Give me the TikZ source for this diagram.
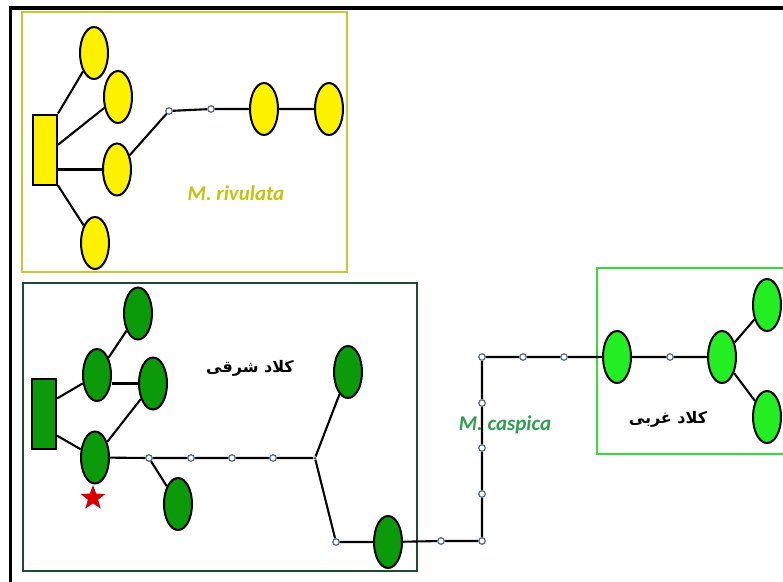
\documentclass[tikz,border=0pt]{standalone}
\usepackage{fontspec}
\setmainfont{Carlito}
\newfontfamily\arabicfont[Script=Arabic]{DejaVu Sans}
\TeXXeTstate=1
\usetikzlibrary{shapes.geometric}

\definecolor{riv}{HTML}{C8C832}
\definecolor{rivtext}{HTML}{C4C410}
\definecolor{eastframe}{HTML}{1F4A33}
\definecolor{eastfill}{HTML}{0A9A0A}
\definecolor{westframe}{HTML}{33DD33}
\definecolor{westfill}{HTML}{22EE22}
\definecolor{casp}{HTML}{2E9E50}
\definecolor{hub}{HTML}{4A6A90}

\tikzset{
  link/.style={line width=2.1pt, black},
  hap/.style={ellipse, draw=black, line width=2pt, minimum width=28pt,
              minimum height=52pt, inner sep=0pt},
  ancestral/.style={rectangle, draw=black, line width=2pt, minimum width=24pt,
              minimum height=70pt, inner sep=0pt},
  median/.style={circle, draw=hub, fill=white, line width=1.2pt,
              minimum size=6.5pt, inner sep=0pt},
  joint/.style={circle, fill=hub, minimum size=3pt, inner sep=0pt},
  clade/.style={line width=2.4pt},
  species/.style={font=\bfseries\itshape\fontsize{21}{24}\selectfont},
  cladename/.style={font=\arabicfont\bfseries\fontsize{16}{19}\selectfont, text=black}
}

\begin{document}
\begin{tikzpicture}[x=1pt, y=-1pt]
\useasboundingbox (0,0) rectangle (783,581);
\clip (0,0) rectangle (783,581);
\fill[white] (0,0) rectangle (783,581);

% outer frame
\draw[line width=3.2pt] (10.5,8) rectangle (820,620);

% ---------- M. rivulata ----------
\draw[clade, draw=riv] (22,12) rectangle (347,272);
\node[ancestral, fill=yellow] (yr) at (45,149.5) {};
\node[hap, fill=yellow] (y1) at (94,53) {};
\node[hap, fill=yellow] (y2) at (118,97) {};
\node[hap, fill=yellow] (y3) at (117,169.5) {};
\node[hap, fill=yellow] (y4) at (95,243) {};
\node[median] (ym1) at (169,111) {};
\node[median] (ym2) at (211,109) {};
\node[hap, fill=yellow] (y5) at (264,109) {};
\node[hap, fill=yellow] (y6) at (329,109) {};
\draw[link] (yr.north east) -- (y1);
\draw[link] (yr.20) -- (y2);
\draw[link] (y3 -| yr.east) -- (y3);
\draw[link] (yr.south east) -- (y4);
\draw[link] (y3) -- (ym1) -- (ym2) -- (y5) -- (y6);
\node[species, text=rivtext] (rivlabel) at (236,193) {M. rivulata};

% ---------- eastern clade ----------
\draw[clade, draw=eastframe] (23,283) rectangle (417,571);
\node[ancestral, fill=eastfill] (gr) at (44,414) {};
\node[hap, fill=eastfill] (g1) at (138,313.5) {};
\node[hap, fill=eastfill] (g2) at (97,375) {};
\node[hap, fill=eastfill] (g3) at (153,383.5) {};
\node[hap, fill=eastfill] (g4) at (95,457.5) {};
\node[hap, fill=eastfill] (g5) at (178,504) {};
\node[hap, fill=eastfill] (g6) at (348,372) {};
\node[hap, fill=eastfill] (g7) at (388,542) {};
\node[median] (em1) at (149,458) {};
\node[median] (em2) at (191,458) {};
\node[median] (em3) at (232,458) {};
\node[median] (em4) at (273,458) {};
\node[joint]  (ej)  at (315,458) {};
\node[median] (em5) at (336,542) {};
\draw[link] (gr.50) -- (g2);
\draw[link] (gr.-59) -- (g4);
\draw[link] (g2) -- (g1);
\draw[link] (g3 -| g2.east) -- (g3);
\draw[link] (g4) -- (g3);
\draw[link] (g4) -- (em1) -- (em2) -- (em3) -- (em4) -- (ej);
\draw[link] (em1) -- (g5);
\draw[link] (ej) -- (g6);
\draw[link] (ej) -- (em5) -- (g7);
\node[cladename] (eastlabel) at (250,368) {\beginR کلاد شرقی\endR};
\node[star, star points=5, star point ratio=2.4, fill=red!85!black,
      minimum size=26pt, inner sep=0pt] (mark) at (93,498) {};

% ---------- link between the clades ----------
\node[median] (cm1) at (441,541) {};
\node[median] (cc1) at (482,541) {};
\node[median] (cm2) at (482,494) {};
\node[median] (cm3) at (482,448) {};
\node[median] (cm4) at (482,403) {};
\node[median] (cc2) at (482,357) {};
\node[median] (cm5) at (523,357) {};
\node[median] (cm6) at (564,357) {};

% ---------- western clade ----------
\draw[clade, draw=westframe] (597,268) rectangle (820,454);
\node[hap, fill=westfill] (l1) at (617,357) {};
\node[median] (wm1) at (670,357) {};
\node[hap, fill=westfill] (l2) at (722,357) {};
\node[hap, fill=westfill] (l3) at (767,305) {};
\node[hap, fill=westfill] (l4) at (767,417) {};
\draw[link] (g7) -- (cm1) -- (cc1) -- (cm2) -- (cm3) -- (cm4) -- (cc2)
            -- (cm5) -- (cm6) -- (l1) -- (wm1) -- (l2);
\draw[link] (l2) -- (l3);
\draw[link] (l2) -- (l4);
\node[cladename] (westlabel) at (668,419) {\beginR کلاد غربی\endR};

\node[species, text=casp] (casplabel) at (505,425) {M. caspica};
\end{tikzpicture}
\end{document}
